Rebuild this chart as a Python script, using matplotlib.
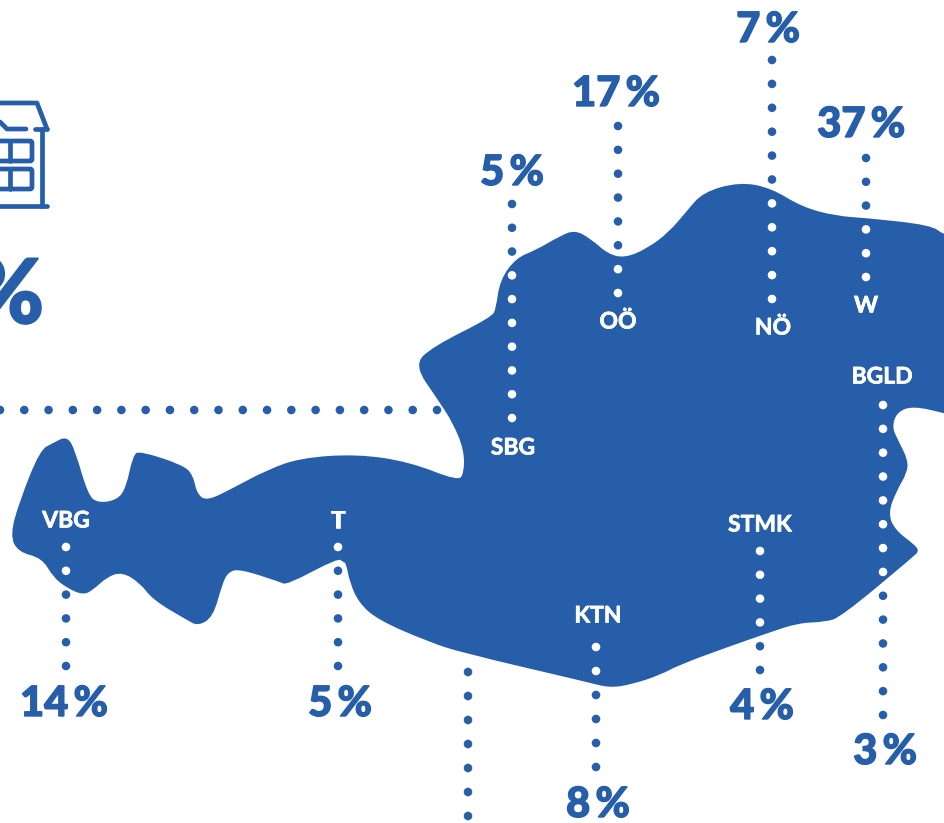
import numpy as np
import matplotlib
matplotlib.use('Agg')
import matplotlib.pyplot as plt
import matplotlib.patheffects as pe
from matplotlib.path import Path
from matplotlib.patches import PathPatch, FancyBboxPatch

BLUE = '#275EAA'
plt.rcParams['font.family'] = ['Lato', 'DejaVu Sans']

# Umriss von Oesterreich, aus dem Bild gelesen
map_x = [67, 75, 88, 98, 117, 126, 133, 140, 183, 193, 197, 207, 233, 267, 300, 357, 410, 458, 464, 464, 453, 438,
         414, 432, 492, 496, 500, 516, 536, 560, 575, 591, 608, 625, 648, 669, 686, 703, 740, 771, 802, 836, 866,
         931, 944, 960, 960, 944, 913, 897, 892, 898, 908, 907, 897, 888, 895, 915, 919, 913, 841, 825, 798, 768,
         725, 679, 660, 633, 610, 587, 463, 429, 378, 359, 350, 346, 343, 338, 287, 280, 240, 228, 222, 213, 198,
         187, 153, 140, 122, 107, 93, 83, 67, 53, 42, 18, 10, 20, 40, 53]
map_y = [436, 450, 495, 503, 500, 488, 455, 451, 465, 475, 494, 501, 488, 470, 458, 454, 462, 481, 473, 450, 423, 400,
         365, 347, 317, 308, 280, 258, 250, 236, 230, 239, 254, 258, 248, 232, 212, 192, 182, 188, 207, 216, 218,
         225, 235, 238, 418, 413, 406, 412, 427, 440, 460, 473, 490, 513, 530, 545, 551, 557, 617, 622, 623, 633,
         648, 665, 675, 684, 688, 682, 653, 642, 620, 603, 583, 563, 562, 558, 585, 582, 569, 572, 585, 617, 626,
         620, 600, 583, 572, 577, 590, 595, 588, 577, 558, 552, 535, 500, 450, 443]

# Bundeslaender: Kuerzel, Wert, Position von Kuerzel und Wert
regions = ['VBG', 'T', 'SBG', 'OÖ', 'NÖ', 'W', 'BGLD', 'STMK', 'KTN']
shares = [14, 5, 5, 17, 7, 37, 3, 4, 8]
label_x = [66, 338, 513, 618, 773, 866, 882, 760, 598]
label_y = [521, 521, 448, 322, 328, 306, 377, 525, 616]
share_x = [64, 340, 512, 616, 768, 861, 885, 762, 598]
share_y = [704, 704, 173, 94, 30, 125, 752, 707, 805]

# Punktlinien: x, erster Punkt, letzter Punkt, Anzahl
dot_x = [66, 338, 512, 618, 772, 866, 883, 760, 596, 468]
dot_start = [547, 547, 204, 126, 60, 158, 405, 551, 647, 672]
dot_end = [666, 666, 418, 293, 299, 277, 715, 670, 767, 816]
dot_num = [6, 6, 10, 8, 11, 6, 14, 6, 6, 7]

fig = plt.figure(figsize=(9.44, 8.23), dpi=100)
ax = fig.add_axes([0, 0, 1, 1])
ax.set_xlim(0, 944)
ax.set_ylim(823, 0)
ax.axis('off')

# Karte als geglaettete Kurve durch die Umrisspunkte
pts = np.column_stack([map_x, map_y]).astype(float)
mids = (pts + np.roll(pts, -1, axis=0)) / 2
verts = [mids[-1]]
codes = [Path.MOVETO]
for p, m in zip(pts, mids):
    verts += [p, m]
    codes += [Path.CURVE3, Path.CURVE3]
map_path = Path(verts, codes)
ax.add_patch(PathPatch(map_path, facecolor=BLUE, edgecolor='none', zorder=1))

# Punkte: weiss auf der Karte, blau daneben
xs, ys = [], []
for x, a, b, n in zip(dot_x, dot_start, dot_end, dot_num):
    xs += [x] * n
    ys += list(np.linspace(a, b, n))
xs += list(np.linspace(0, 437, 19))
ys += [410] * 19
dots = np.column_stack([xs, ys])
inside = Path(map_path.to_polygons()[0]).contains_points(dots)
ax.scatter(dots[:, 0], dots[:, 1], s=38, c=[('white' if i else BLUE) for i in inside],
           linewidths=0, zorder=3)

for name, x, y in zip(regions, label_x, label_y):
    t = ax.text(x, y, name, color='white', fontsize=16.5, fontweight='bold', ha='center', va='center', zorder=4)
    t.set_path_effects([pe.withStroke(linewidth=0.5, foreground='white')])

for val, x, y in zip(shares, share_x, share_y):
    t = ax.text(x, y, '%d\u2009%%' % val, color=BLUE, fontsize=30, fontweight='black', ha='center', va='center', zorder=4)
    t.set_path_effects([pe.withStroke(linewidth=1.0, foreground=BLUE)])

# grosses Prozentzeichen links, am Rand abgeschnitten
t = ax.text(44, 297, '%', color=BLUE, fontsize=64, fontweight='black', ha='right', va='center')
t.set_path_effects([pe.withStroke(linewidth=1.5, foreground=BLUE)])

# Haus-Symbol
lw = 3.4
house = [
    ([0, 37, 47], [103, 103, 129]),
    ([35, 47], [129, 129]),
    ([42, 42], [129, 206]),
    ([0, 47], [206, 206]),
    ([0, 7, 26], [122, 129, 129]),
    ([10, 10], [141, 161]),
    ([10, 10], [169, 189]),
]
for hx, hy in house:
    ax.plot(hx, hy, color=BLUE, lw=lw, solid_capstyle='round', solid_joinstyle='round')
for top in [141, 169]:
    ax.add_patch(FancyBboxPatch((-20, top), 52, 20, boxstyle='round,pad=0,rounding_size=2',
                                facecolor='none', edgecolor=BLUE, lw=lw))

fig.savefig('out.png', dpi=100)
